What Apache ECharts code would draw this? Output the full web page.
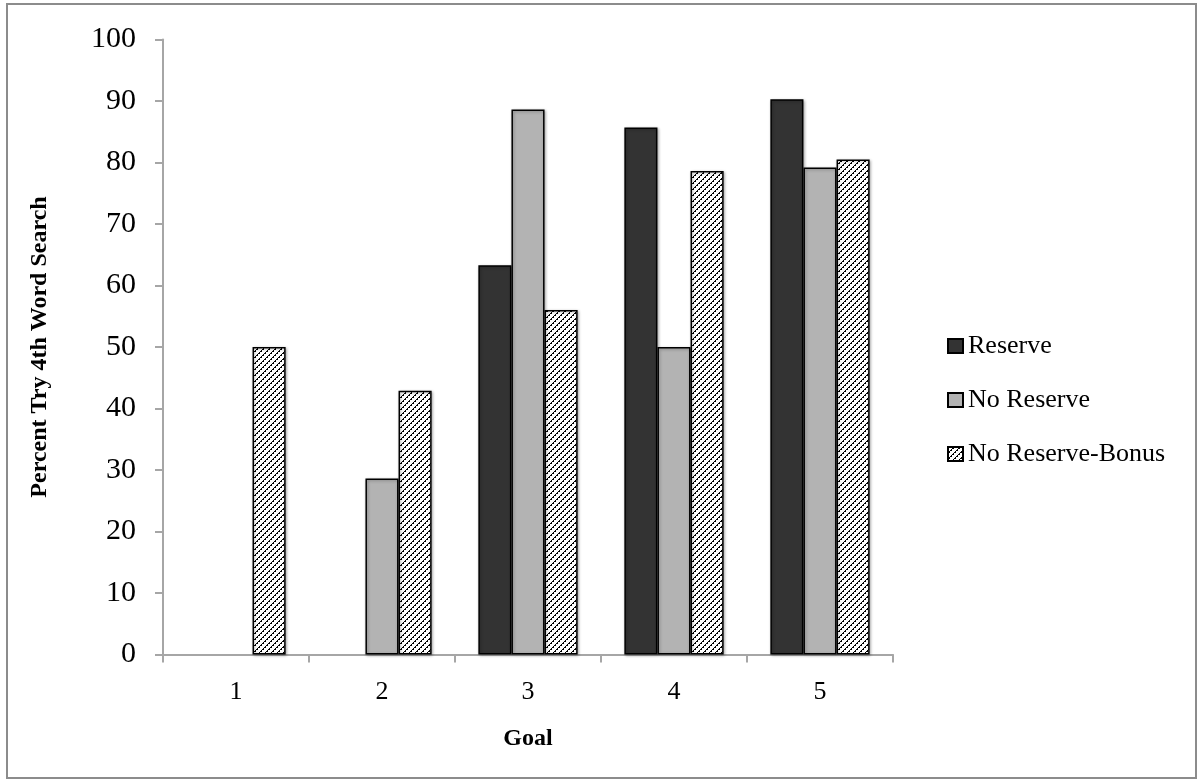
<!DOCTYPE html>
<html>
<head>
<meta charset="utf-8">
<script src="https://cdn.jsdelivr.net/npm/echarts@6/dist/echarts.min.js"></script>
<style>
html,body{margin:0;padding:0;background:#fff;}
#chart{width:1203px;height:782px;}
</style>
</head>
<body>
<div id="chart"></div>
<script>
const categories = ['1', '2', '3', '4', '5'];
const reserve = [null, null, 63.3, 85.7, 90.3];
const noReserve = [null, 28.6, 88.6, 50.0, 79.2];
const noReserveBonus = [50.0, 42.9, 56.0, 78.6, 80.5];
const yTicks = [0, 10, 20, 30, 40, 50, 60, 70, 80, 90, 100];

function makeHatch() {
  const c = document.createElement('canvas');
  c.width = 6; c.height = 6;
  const ctx = c.getContext('2d');
  ctx.fillStyle = '#ffffff';
  ctx.fillRect(0, 0, 6, 6);
  ctx.fillStyle = '#000000';
  for (let i = 0; i < 6; i++) {
    ctx.fillRect(i, 5 - i, 1, 1);
    if (i % 2 === 0) ctx.fillRect((i + 1) % 6, 5 - i, 1, 1);
  }
  return c;
}
const hatch = { image: makeHatch(), repeat: 'repeat' };

const chart = echarts.init(document.getElementById('chart'), null, { renderer: 'canvas' });
const serif = '"Liberation Serif", "DejaVu Serif", serif';
const barStyle = (color) => ({
  color: color,
  borderColor: '#000000',
  borderWidth: 1.5,
  shadowBlur: 3,
  shadowColor: 'rgba(0,0,0,0.3)',
  shadowOffsetX: 1,
  shadowOffsetY: 1
});

chart.setOption({
  animation: false,
  backgroundColor: '#ffffff',
  graphic: [{
    type: 'rect',
    shape: { x: 7, y: 4, width: 1189, height: 774 },
    style: { fill: 'none', stroke: '#8c8c8c', lineWidth: 2 }
  }],
  grid: { left: 163, right: 310, top: 39.5, height: 615, containLabel: false },
  legend: {
    orient: 'vertical',
    left: 942,
    top: 328,
    itemWidth: 15,
    itemHeight: 14,
    itemGap: 28,
    icon: 'rect',
    textStyle: { fontFamily: serif, fontSize: 26, color: '#000', lineHeight: 24, padding: [2, 0, 0, 0] },
    data: ['Reserve', 'No Reserve', 'No Reserve-Bonus']
  },
  xAxis: {
    type: 'category',
    data: categories,
    name: 'Goal',
    nameLocation: 'middle',
    nameGap: 72,
    nameMoveOverlap: false,
    nameTextStyle: { fontFamily: serif, fontSize: 24, fontWeight: 'bold', color: '#000' },
    axisLine: { lineStyle: { color: '#a6a6a6', width: 2 } },
    axisTick: { show: true, length: 8, lineStyle: { color: '#a6a6a6', width: 2 } },
    axisLabel: { fontFamily: serif, fontSize: 26, color: '#000', margin: 25 },
    splitLine: { show: false }
  },
  yAxis: {
    type: 'value',
    min: 0,
    max: 100,
    interval: 10,
    name: 'Percent Try 4th Word Search',
    nameLocation: 'middle',
    nameGap: 111,
    nameMoveOverlap: false,
    nameRotate: 90,
    nameTextStyle: { fontFamily: serif, fontSize: 24, fontWeight: 'bold', color: '#000' },
    axisLine: { show: true, lineStyle: { color: '#a6a6a6', width: 2 } },
    axisTick: { show: true, length: 8, lineStyle: { color: '#a6a6a6', width: 2 } },
    axisLabel: {
      fontFamily: serif, fontSize: 30, color: '#000', margin: 27,
      formatter: (v) => yTicks.includes(v) ? String(v) : ''
    },
    splitLine: { show: false }
  },
  series: [
    { name: 'Reserve', type: 'bar', data: reserve, barGap: '0%', barCategoryGap: '32%', itemStyle: barStyle('#333333') },
    { name: 'No Reserve', type: 'bar', data: noReserve, barGap: '0%', barCategoryGap: '32%', itemStyle: barStyle('#b3b3b3') },
    { name: 'No Reserve-Bonus', type: 'bar', data: noReserveBonus, barGap: '0%', barCategoryGap: '32%', itemStyle: barStyle(hatch) }
  ]
});
</script>
</body>
</html>
